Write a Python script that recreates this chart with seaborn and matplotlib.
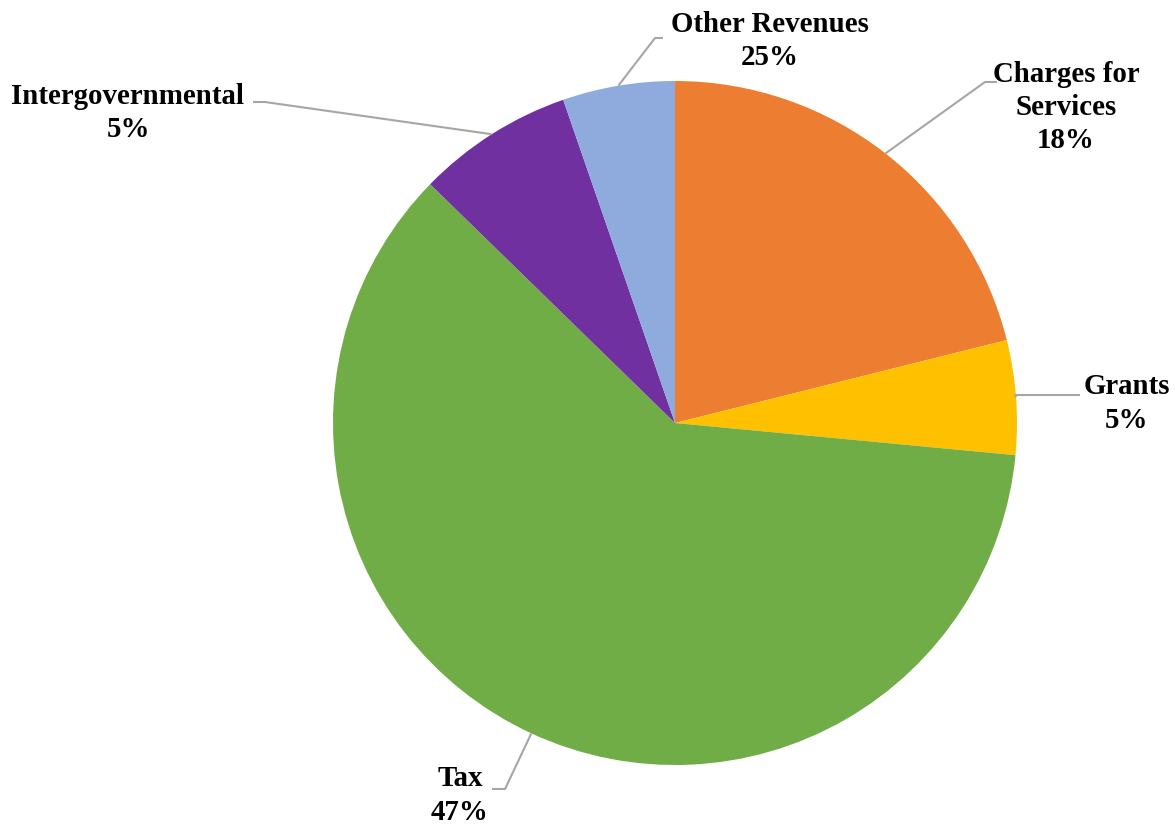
import numpy as np
import matplotlib
matplotlib.use("Agg")
import matplotlib.pyplot as plt
import seaborn as sns

categories = ["Charges for\nServices", "Grants", "Tax", "Intergovernmental", "Other Revenues"]
slice_values = [21.1, 5.4, 60.8, 7.4, 5.3]
label_percents = ["18%", "5%", "47%", "5%", "25%"]
colors = ["#ED7D31", "#FFC000", "#70AD47", "#7030A0", "#8FAADC"]

sns.set_theme(style="white")
plt.rcParams['font.family'] = ['Liberation Serif', 'DejaVu Serif']

W, H = 1175, 826
fig = plt.figure(figsize=(W / 100, H / 100), dpi=100)
ax = fig.add_axes([0, 0, 1, 1])

cx, cy, R = 675, H - 423, 342
wedges, _ = ax.pie(slice_values, colors=colors, startangle=90, counterclock=False,
                   center=(cx, cy), radius=R, frame=True,
                   wedgeprops=dict(linewidth=0))
ax.set_xlim(0, W)
ax.set_ylim(0, H)
ax.set_aspect('equal')
ax.axis('off')

# layout: (text center x, first-line center y from top, elbow (x,y), end (x,y))
layout = [
    (1066, 74, (985, 82), (997, 82)),
    (1127, 387, (1015, 395), (1080, 395)),
    (460, 779, (505, 789), (492, 789)),
    (128, 96, (265, 102), (253, 102)),
    (770, 24, (655, 38), (663, 38)),
]
line_gap = 33.5

for w, cat, pct, (tx, ty, elbow, end) in zip(wedges, categories, label_percents, layout):
    mid = np.deg2rad((w.theta1 + w.theta2) / 2)
    sx, sy = cx + R * np.cos(mid), cy + R * np.sin(mid)
    xs = [sx, elbow[0], end[0]]
    ys = [sy, H - elbow[1], H - end[1]]
    ax.plot(xs, ys, color="#A6A6A6", lw=1.5, solid_capstyle='butt', zorder=3)
    lines = cat.split("\n") + [pct]
    for i, line in enumerate(lines):
        ax.text(tx, H - (ty + i * line_gap), line, ha='center', va='center',
                fontsize=20.8, fontweight='bold', color='black')

fig.savefig("out.png", dpi=100, facecolor='white')
